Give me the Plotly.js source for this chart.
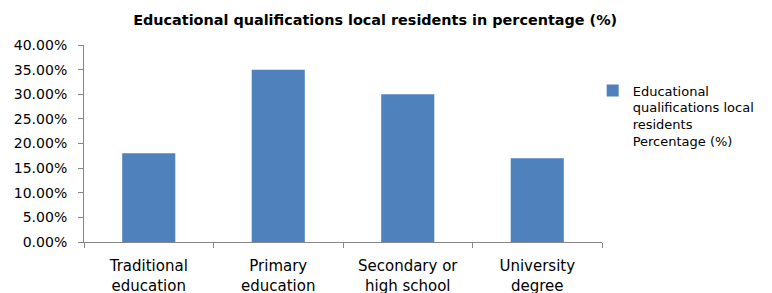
<!DOCTYPE html>
<html>
<head>
<meta charset="utf-8">
<script src="https://cdn.plot.ly/plotly-3.0.1.min.js"></script>
<style>html,body{margin:0;padding:0;background:#fff;}#chart{width:772px;height:293px;}</style>
</head>
<body>
<div id="chart"></div>
<script>
const categories = ["Traditional<br>education", "Primary<br>education", "Secondary or<br>high school", "University<br>degree"];
const values = [0.18, 0.35, 0.30, 0.17];
const seriesName = "Educational<br>qualifications local<br>residents<br>Percentage (%)";
const titleText = "Educational qualifications local residents in percentage (%)";

const FONT = "'DejaVu Sans', 'Open Sans', sans-serif";
const data = [{
  type: "bar",
  x: categories,
  y: values,
  name: seriesName,
  marker: {color: "#4F81BD"},
  showlegend: true,
  hoverinfo: "skip"
}];
const layout = {
  width: 772, height: 293,
  margin: {l: 84, r: 168, t: 45, b: 51},
  paper_bgcolor: "#fff", plot_bgcolor: "#fff",
  font: {family: FONT, size: 14, color: "#000"},
  title: {text: "<b>" + titleText + "</b>", x: 0.486, xanchor: "center", y: 0.932, yanchor: "middle", font: {family: FONT, size: 14.4, color: "#000"}},
  bargap: 0.59,
  showlegend: true,
  legend: {x: 0.982, y: 0.845, xanchor: "left", yanchor: "top", valign: "top", font: {family: FONT, size: 13, color: "#000"}, itemwidth: 30, tracegroupgap: 0},
  xaxis: {
    type: "category",
    showline: true, linecolor: "#868686", linewidth: 1,
    ticks: "outside", tickson: "boundaries", ticklen: 5, tickcolor: "#868686",
    showgrid: false, zeroline: false, ticklabelstandoff: 10,
    tickfont: {family: FONT, size: 15, color: "#000"}
  },
  yaxis: {
    range: [0, 0.4], dtick: 0.05, tick0: 0, tickformat: ".2%",
    showline: true, linecolor: "#868686", linewidth: 1,
    ticks: "outside", ticklen: 5, tickcolor: "#868686",
    showgrid: false, zeroline: false, ticklabelstandoff: 8,
    tickfont: {family: FONT, size: 14, color: "#000"}
  }
};
Plotly.newPlot("chart", data, layout, {displayModeBar: false, staticPlot: true});
</script>
</body>
</html>
